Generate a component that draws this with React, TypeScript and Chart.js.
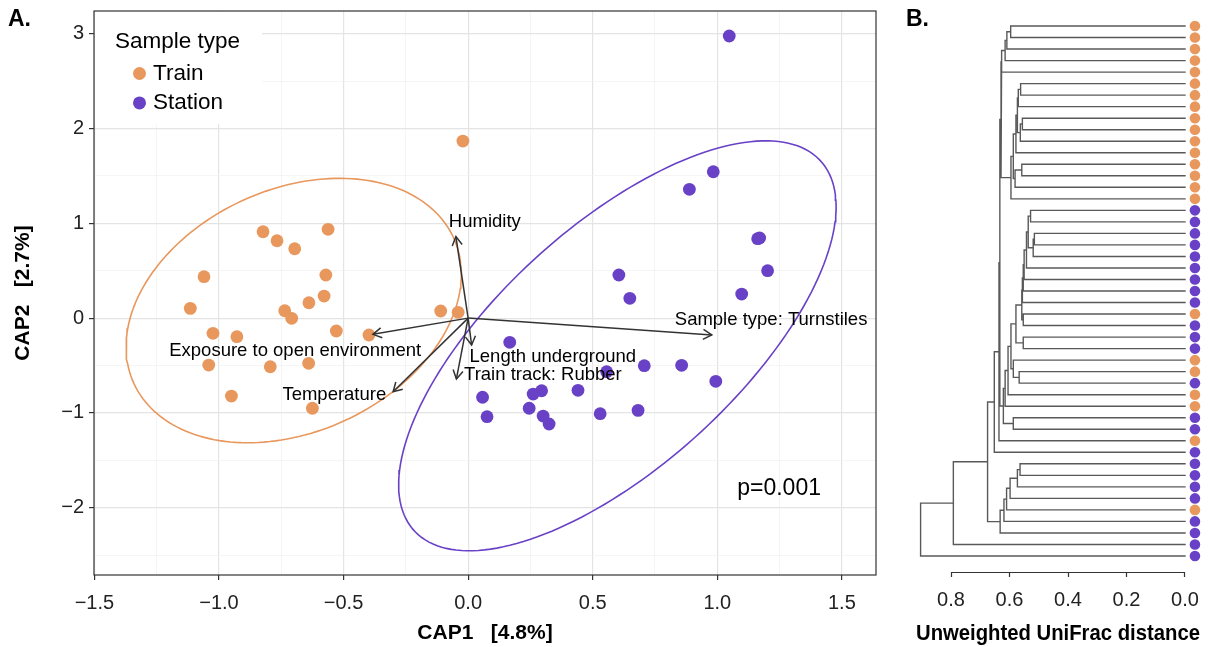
import React, { useEffect, useRef } from 'react';
import { Chart, registerables } from 'chart.js';

Chart.register(...registerables);

const FONT = '"Liberation Sans", Arial, Helvetica, sans-serif';
const TRAIN_COLOR = '#E8975D';
const STATION_COLOR = '#6941C6';

// ---------- Panel A data ----------
const sampleTypes = ['Train', 'Station'];

const trainCap1 = [-0.021, -0.823, -0.767, -0.696, -0.562, -1.06, -0.571, -1.115, -0.736, -0.708, -0.639, -0.578, -1.024, -0.928, -0.529, -0.398, -1.041, -0.794, -0.64, -0.95, -0.625, -0.11, -0.04];
const trainCap2 = [1.868, 0.911, 0.816, 0.732, 0.937, 0.437, 0.455, 0.103, 0.078, -0.002, 0.162, 0.233, -0.16, -0.196, -0.136, -0.178, -0.495, -0.513, -0.477, -0.822, -0.951, 0.075, 0.061];

const stationCap1 = [1.048, 0.984, 0.888, 1.162, 1.17, 1.202, 1.098, 0.605, 0.649, 0.167, 0.707, 0.857, 0.994, 0.556, 0.058, 0.076, 0.261, 0.295, 0.245, 0.301, 0.325, 0.441, 0.53, 0.682];
const stationCap2 = [2.976, 1.544, 1.359, 0.838, 0.845, 0.5, 0.254, 0.455, 0.209, -0.255, -0.502, -0.498, -0.667, -0.565, -0.835, -1.04, -0.801, -0.766, -0.951, -1.033, -1.117, -0.762, -1.008, -0.973];

const envNames = ['Humidity', 'Exposure to open environment', 'Temperature', 'Length underground', 'Train track: Rubber', 'Sample type: Turnstiles'];
const envCap1 = [-0.049, -0.382, -0.301, 0.014, -0.047, 0.978];
const envCap2 = [0.86, -0.171, -0.776, -0.284, -0.642, -0.178];
const envLabelCap1 = [0.067, -0.694, -0.537, 0.34, 0.3, 1.216];
const envLabelCap2 = [1.017, -0.347, -0.811, -0.408, -0.594, -0.02];

const ellipseCenterCap1 = [-0.7, 0.599];
const ellipseCenterCap2 = [0.08, -0.292];
const ellipseMajor = [1.41, 2.25];
const ellipseMinor = [0.64, 0.62];
const ellipseAngle = [80.5, 73.3];

const pValueText = 'p=0.001';
const pValueCap1 = 1.248;
const pValueCap2 = -1.794;

const cap1Min = -1.5015;
const cap1Max = 1.637;
const cap2Min = -2.71;
const cap2Max = 3.24;
const cap1GridValues = [-1.5, -1.25, -1, -0.75, -0.5, -0.25, 0, 0.25, 0.5, 0.75, 1, 1.25, 1.5];
const cap1TickValues = [-1.5, -1, -0.5, 0, 0.5, 1, 1.5];
const cap1TickLabels = ['\u22121.5', '\u22121.0', '\u22120.5', '0.0', '0.5', '1.0', '1.5'];
const cap2GridValues = [-2.5, -2, -1.5, -1, -0.5, 0, 0.5, 1, 1.5, 2, 2.5, 3];
const cap2TickValues = [-2, -1, 0, 1, 2, 3];
const cap2TickLabels = ['\u22122', '\u22121', '0', '1', '2', '3'];

// ---------- Panel B data (dendrogram) ----------
// leaf groups in display order, top to bottom: T = Train, S = Station
const leafGroups = ['T', 'T', 'T', 'T', 'T', 'T', 'T', 'T', 'T', 'T', 'T', 'T', 'T', 'T', 'T', 'T',
  'S', 'S', 'S', 'S', 'S', 'S', 'S', 'S', 'S', 'T', 'S', 'S', 'S', 'T', 'T', 'S', 'T', 'T', 'S', 'S', 'T',
  'S', 'S', 'S', 'S', 'S', 'T', 'S', 'S', 'S', 'S'];
// hclust-style merges: negative = leaf row, positive = earlier merge number
const mergeLeft = [-1, 1, 2, 3, -6, 5, -9, 7, 6, 9, -13, 11, 10, 13, -17, -19, 16, 15, 18, 19, 20, -26, 21, 23, -28, 24, -31, -30, 26, 29, 30, -35, 31, 4, 34, 35, 36, -39, 38, 39, 40, 41, 42, 37, 44, 45];
const mergeRight = [-2, -3, -4, -5, -7, -8, -10, -11, 8, -12, -14, -15, 12, -16, -18, -20, -21, 17, -22, -23, -24, -27, -25, 22, -29, 25, -32, 27, 28, -33, -34, -36, 32, 14, 33, -37, -38, -40, -41, -42, -43, -44, -45, 43, -46, -47];
const mergeHeight = [0.596, 0.609, 0.615, 0.627, 0.562, 0.57, 0.556, 0.563, 0.573, 0.578, 0.558, 0.581, 0.587, 0.595, 0.528, 0.515, 0.519, 0.536, 0.542, 0.55, 0.553, 0.553, 0.556, 0.558, 0.553, 0.578, 0.567, 0.587, 0.595, 0.605, 0.615, 0.587, 0.621, 0.629, 0.633, 0.636, 0.652, 0.564, 0.573, 0.598, 0.61, 0.619, 0.632, 0.675, 0.792, 0.904];
const distanceTicks = [0.8, 0.6, 0.4, 0.2, 0.0];
const tipOffset = -0.034;

// ---------- helpers ----------
const near = (arr: number[], v: any) => (typeof v === 'number' ? arr.findIndex((t) => Math.abs(t - v) < 1e-9) : -1);
const isMajor = (arr: number[], v: any) => near(arr, v) >= 0;

function ellipseOutline(k: number) {
  const pts: { x: number; y: number }[] = [];
  const th = (ellipseAngle[k] * Math.PI) / 180;
  const a = ellipseMajor[k];
  const b = ellipseMinor[k];
  for (let i = 0; i <= 180; i++) {
    const t = (i / 180) * Math.PI * 2;
    pts.push({
      x: ellipseCenterCap1[k] + a * Math.cos(th) * Math.cos(t) - b * Math.sin(th) * Math.sin(t),
      y: ellipseCenterCap2[k] + a * Math.sin(th) * Math.cos(t) + b * Math.cos(th) * Math.sin(t),
    });
  }
  return pts;
}

function dendrogramSegments() {
  const nodeY: number[] = [];
  const nodeH: number[] = [];
  const getY = (id: number) => (id < 0 ? -id : nodeY[id - 1]);
  const getH = (id: number) => (id < 0 ? 0 : nodeH[id - 1]);
  const segs: { x: number | null; y: number | null }[] = [];
  for (let k = 0; k < mergeHeight.length; k++) {
    const a = mergeLeft[k];
    const b = mergeRight[k];
    const h = mergeHeight[k];
    const ya = getY(a);
    const yb = getY(b);
    segs.push({ x: getH(a), y: ya }, { x: h, y: ya }, { x: h, y: yb }, { x: getH(b), y: yb }, { x: null, y: null });
    nodeY.push((ya + yb) / 2);
    nodeH.push(h);
  }
  return segs;
}

const panelAPlugin = {
  id: 'panelAExtras',
  afterDatasetsDraw(chart: any) {
    const { ctx, scales } = chart;
    const x = scales.x;
    const y = scales.y;
    ctx.save();
    const ox = x.getPixelForValue(0);
    const oy = y.getPixelForValue(0);
    ctx.strokeStyle = '#333333';
    ctx.lineWidth = 1.5;
    ctx.lineCap = 'butt';
    envNames.forEach((_n, i) => {
      const tx = x.getPixelForValue(envCap1[i]);
      const ty = y.getPixelForValue(envCap2[i]);
      ctx.beginPath();
      ctx.moveTo(ox, oy);
      ctx.lineTo(tx, ty);
      ctx.stroke();
      const ang = Math.atan2(ty - oy, tx - ox);
      const L = 10;
      const sp = Math.PI / 6;
      ctx.beginPath();
      ctx.moveTo(tx - L * Math.cos(ang - sp), ty - L * Math.sin(ang - sp));
      ctx.lineTo(tx, ty);
      ctx.lineTo(tx - L * Math.cos(ang + sp), ty - L * Math.sin(ang + sp));
      ctx.stroke();
    });
    ctx.fillStyle = '#000000';
    ctx.textAlign = 'center';
    ctx.textBaseline = 'middle';
    ctx.font = `18.5px ${FONT}`;
    envNames.forEach((name, i) => {
      ctx.fillText(name, x.getPixelForValue(envLabelCap1[i]), y.getPixelForValue(envLabelCap2[i]));
    });
    ctx.font = `23px ${FONT}`;
    ctx.fillText(pValueText, x.getPixelForValue(pValueCap1), y.getPixelForValue(pValueCap2));
    ctx.restore();
  },
  afterDraw(chart: any) {
    const { ctx, chartArea } = chart;
    const { left, top, right, bottom } = chartArea;
    ctx.save();
    // legend
    ctx.fillStyle = '#ffffff';
    ctx.fillRect(left + 1, top + 1, 167, 112);
    ctx.fillStyle = '#000000';
    ctx.textAlign = 'left';
    ctx.textBaseline = 'middle';
    ctx.font = `22.5px ${FONT}`;
    ctx.fillText('Sample type', left + 21, top + 31);
    const colors = [TRAIN_COLOR, STATION_COLOR];
    sampleTypes.forEach((name, i) => {
      const cy = top + 62.5 + i * 29.4;
      ctx.fillStyle = colors[i];
      ctx.beginPath();
      ctx.arc(left + 45.5, cy, 6.5, 0, Math.PI * 2);
      ctx.fill();
      ctx.fillStyle = '#000000';
      ctx.fillText(name, left + 59, cy);
    });
    // panel border
    ctx.strokeStyle = '#333333';
    ctx.lineWidth = 1.2;
    ctx.strokeRect(left, top, right - left, bottom - top);
    ctx.restore();
  },
};

const panelBPlugin = {
  id: 'panelBAxisLine',
  afterDraw(chart: any) {
    const { ctx, chartArea, scales } = chart;
    const x = scales.x;
    ctx.save();
    ctx.strokeStyle = '#333333';
    ctx.lineWidth = 1.2;
    ctx.beginPath();
    ctx.moveTo(x.getPixelForValue(distanceTicks[0]), chartArea.bottom + 0.5);
    ctx.lineTo(x.getPixelForValue(distanceTicks[distanceTicks.length - 1]), chartArea.bottom + 0.5);
    ctx.stroke();
    ctx.restore();
  },
};

export default function App() {
  const refA = useRef<HTMLCanvasElement>(null);
  const refB = useRef<HTMLCanvasElement>(null);

  useEffect(() => {
    const chartA = new Chart(refA.current as HTMLCanvasElement, {
      type: 'scatter',
      data: {
        datasets: [
          {
            label: 'Train',
            data: trainCap1.map((v, i) => ({ x: v, y: trainCap2[i] })),
            backgroundColor: TRAIN_COLOR,
            borderWidth: 0,
            pointRadius: 6.4,
          },
          {
            label: 'Station',
            data: stationCap1.map((v, i) => ({ x: v, y: stationCap2[i] })),
            backgroundColor: STATION_COLOR,
            borderWidth: 0,
            pointRadius: 6.4,
          },
          {
            label: 'Train ellipse',
            data: ellipseOutline(0),
            showLine: true,
            borderColor: TRAIN_COLOR,
            borderWidth: 1.6,
            pointRadius: 0,
            fill: false,
          } as any,
          {
            label: 'Station ellipse',
            data: ellipseOutline(1),
            showLine: true,
            borderColor: STATION_COLOR,
            borderWidth: 1.6,
            pointRadius: 0,
            fill: false,
          } as any,
        ],
      },
      options: {
        animation: false,
        responsive: false,
        devicePixelRatio: 1,
        events: [],
        layout: { padding: { left: 0, right: 19, top: 11, bottom: 0 } },
        plugins: { legend: { display: false }, tooltip: { enabled: false } },
        scales: {
          x: {
            type: 'linear',
            min: cap1Min,
            max: cap1Max,
            afterBuildTicks: (s: any) => { s.ticks = cap1GridValues.map((v) => ({ value: v })); },
            afterFit: (s: any) => {
              s.height = 72;
              s.paddingLeft = 0;
              s.paddingRight = 0;
            },
            border: { display: false },
            grid: {
              color: (c: any) => (isMajor(cap1TickValues, c.tick?.value) ? '#E4E4E4' : '#F0F0F0'),
              lineWidth: (c: any) => (isMajor(cap1TickValues, c.tick?.value) ? 1.2 : 0.7),
              drawTicks: true,
              tickLength: 5,
              tickColor: (c: any) => (isMajor(cap1TickValues, c.tick?.value) ? '#333333' : 'rgba(0,0,0,0)'),
              tickWidth: 1.2,
            },
            ticks: {
              autoSkip: false,
              maxRotation: 0,
              minRotation: 0,
              padding: 11,
              color: '#222222',
              font: { family: FONT, size: 20 },
              callback: (v: any) => {
                const i = near(cap1TickValues, v);
                return i >= 0 ? cap1TickLabels[i] : '';
              },
            },
            title: {
              display: true,
              text: 'CAP1   [4.8%]',
              color: '#000000',
              font: { family: FONT, size: 21, weight: 'bold' },
              padding: { top: 0, bottom: 1.4 },
            },
          },
          y: {
            type: 'linear',
            min: cap2Min,
            max: cap2Max,
            afterBuildTicks: (s: any) => { s.ticks = cap2GridValues.map((v) => ({ value: v })); },
            afterFit: (s: any) => {
              s.width = 94;
              s.paddingTop = 0;
              s.paddingBottom = 0;
            },
            border: { display: false },
            grid: {
              color: (c: any) => (isMajor(cap2TickValues, c.tick?.value) ? '#E4E4E4' : '#F0F0F0'),
              lineWidth: (c: any) => (isMajor(cap2TickValues, c.tick?.value) ? 1.2 : 0.7),
              drawTicks: true,
              tickLength: 5,
              tickColor: (c: any) => (isMajor(cap2TickValues, c.tick?.value) ? '#333333' : 'rgba(0,0,0,0)'),
              tickWidth: 1.2,
            },
            ticks: {
              autoSkip: false,
              padding: 5,
              color: '#222222',
              font: { family: FONT, size: 20 },
              callback: (v: any) => {
                const i = near(cap2TickValues, v);
                return i >= 0 ? cap2TickLabels[i] : '';
              },
            },
            title: {
              display: true,
              text: 'CAP2   [2.7%]',
              color: '#000000',
              font: { family: FONT, size: 21, weight: 'bold' },
              padding: { top: 10.5, bottom: 0 },
            },
          },
        },
      } as any,
      plugins: [panelAPlugin],
    });

    const chartB = new Chart(refB.current as HTMLCanvasElement, {
      type: 'scatter',
      data: {
        datasets: [
          {
            label: 'Leaves',
            data: leafGroups.map((_g, i) => ({ x: tipOffset, y: i + 1 })),
            pointBackgroundColor: leafGroups.map((g) => (g === 'T' ? TRAIN_COLOR : STATION_COLOR)),
            pointBorderWidth: 0,
            pointRadius: 5.3,
            clip: false,
          } as any,
          {
            type: 'line',
            label: 'Tree',
            data: dendrogramSegments(),
            borderColor: '#595959',
            borderWidth: 1.4,
            pointRadius: 0,
            spanGaps: false,
            tension: 0,
            fill: false,
            borderJoinStyle: 'miter',
            borderCapStyle: 'square',
          } as any,
        ],
      },
      options: {
        animation: false,
        responsive: false,
        devicePixelRatio: 1,
        events: [],
        layout: { padding: { left: 21, right: 29, top: 14.5, bottom: 0 } },
        plugins: { legend: { display: false }, tooltip: { enabled: false } },
        scales: {
          x: {
            type: 'linear',
            reverse: true,
            min: -0.0513,
            max: 0.9197,
            afterBuildTicks: (s: any) => { s.ticks = distanceTicks.map((v) => ({ value: v })); },
            afterFit: (s: any) => {
              s.height = 75;
              s.paddingLeft = 0;
              s.paddingRight = 0;
            },
            border: { display: false },
            grid: {
              drawOnChartArea: false,
              drawTicks: true,
              tickLength: 5,
              tickColor: '#333333',
              tickWidth: 1.2,
            },
            ticks: {
              autoSkip: false,
              maxRotation: 0,
              minRotation: 0,
              padding: 11,
              color: '#222222',
              font: { family: FONT, size: 20 },
              callback: (v: any) => Number(v).toFixed(1),
            },
            title: {
              display: true,
              text: 'Unweighted UniFrac distance',
              color: '#000000',
              font: { family: FONT, size: 22, weight: 'bold' },
              padding: { top: 0, bottom: 0 },
            },
          },
          y: {
            type: 'linear',
            display: false,
            reverse: true,
            min: 0,
            max: 48.39,
          },
        },
      } as any,
      plugins: [panelBPlugin],
    });

    return () => {
      chartA.destroy();
      chartB.destroy();
    };
  }, []);

  const panelLabel: React.CSSProperties = {
    position: 'absolute',
    top: 7,
    font: `bold 23px ${FONT}`,
    lineHeight: '23px',
    color: '#000',
  };

  return (
    <div style={{ position: 'fixed', left: 0, top: 0, width: 1229, height: 647, background: '#ffffff', overflow: 'hidden' }}>
      <canvas ref={refA} width={895} height={647} style={{ position: 'absolute', left: 0, top: 0, width: 895, height: 647 }} />
      <canvas ref={refB} width={334} height={647} style={{ position: 'absolute', left: 895, top: 0, width: 334, height: 647 }} />
      <div style={{ ...panelLabel, left: 8 }}>A.</div>
      <div style={{ ...panelLabel, left: 906 }}>B.</div>
    </div>
  );
}
